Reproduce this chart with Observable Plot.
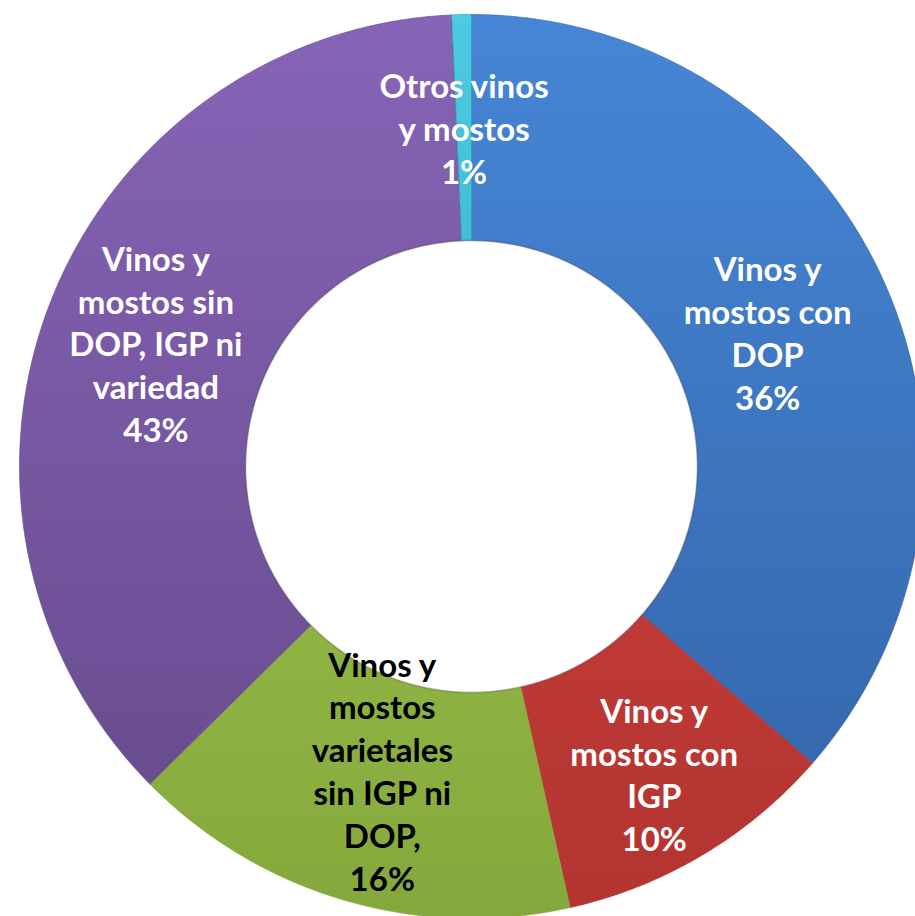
<!DOCTYPE html>
<html>
<head>
<meta charset="utf-8">
<script src="https://cdn.jsdelivr.net/npm/d3@7"></script>
<script src="https://cdn.jsdelivr.net/npm/@observablehq/plot@0.6"></script>
<style>
  html, body { margin: 0; padding: 0; background: #ffffff; }
  #chart svg { display: block; }
</style>
</head>
<body>
<div id="chart"></div>
<script>
// ---- data (clockwise from 12 o'clock) ----
const categories = [
  "Vinos y mostos con DOP",
  "Vinos y mostos con IGP",
  "Vinos y mostos varietales sin IGP ni DOP,",
  "Vinos y mostos sin DOP, IGP ni variedad",
  "Otros vinos y mostos"
];
// slice sizes as drawn in the picture (share of the ring, %)
const sliceShares = [36.4, 10.1, 16.1, 36.7, 0.7];
// percentages printed on the labels
const printedPct = ["36%", "10%", "16%", "43%", "1%"];
// label text as broken into lines
const labelText = [
  "Vinos y\nmostos con\nDOP",
  "Vinos y\nmostos con\nIGP",
  "Vinos y\nmostos\nvarietales\nsin IGP ni\nDOP,",
  "Vinos y\nmostos sin\nDOP, IGP ni\nvariedad",
  "Otros vinos\ny mostos"
];

// ---- styles / layout ----
const topColors    = ["#4686d6", "#d8453f", "#a3cd52", "#8664b7", "#4ccbe2"];
const bottomColors = ["#3363a6", "#b23431", "#85a83c", "#654989", "#2399ae"];
const textColors   = ["#ffffff", "#ffffff", "#000000", "#ffffff", "#ffffff"];
const labelRadius  = [0.72, 0.79, 0.70, 0.75, 0.75];   // label distance from centre (ring radius = 1)

const W = 915, H = 916;
const cx = 471, cy = 466, Rpx = 452;   // layout of the ring in the frame
const innerR = 0.5, outerR = 1;

// ---- build slice polygons from the data ----
const pie = d3.pie().sort(null).value(d => d.share).startAngle(0).endAngle(2 * Math.PI);
const rows = categories.map((c, i) => ({
  name: c, share: sliceShares[i], pct: printedPct[i],
  label: labelText[i] + "\n" + printedPct[i], grad: `url(#grad${i})`, textColor: textColors[i]
}));
const arcs = pie(rows);

const polys = [];
arcs.forEach((a, i) => {
  const n = Math.max(4, Math.ceil((a.endAngle - a.startAngle) / (Math.PI / 360)));
  const pts = [];
  for (let k = 0; k <= n; k++) {
    const t = a.startAngle + (a.endAngle - a.startAngle) * k / n;
    pts.push({x: outerR * Math.sin(t), y: outerR * Math.cos(t)});
  }
  for (let k = n; k >= 0; k--) {
    const t = a.startAngle + (a.endAngle - a.startAngle) * k / n;
    pts.push({x: innerR * Math.sin(t), y: innerR * Math.cos(t)});
  }
  pts.push(pts[0]);
  pts.forEach(p => polys.push({...p, name: a.data.name, grad: a.data.grad, edge: bottomColors[i]}));
});

const labels = arcs.map((a, i) => {
  const m = (a.startAngle + a.endAngle) / 2;
  const r = labelRadius[i];
  return {x: r * Math.sin(m), y: r * Math.cos(m), label: a.data.label, color: a.data.textColor};
});

// inner hole rim (shadow)
const rim = d3.range(0, 361, 1).map(d => ({x: innerR * Math.sin(d * Math.PI / 180), y: innerR * Math.cos(d * Math.PI / 180)}));

const chart = Plot.plot({
  width: W, height: H,
  margin: 0,
  x: {domain: [-cx / Rpx, (W - cx) / Rpx], axis: null},
  y: {domain: [-(H - cy) / Rpx, cy / Rpx], axis: null},
  color: {type: "identity"},
  style: {background: "transparent"},
  marks: [
    Plot.line(polys, {x: "x", y: "y", z: "name", fill: "grad", stroke: "edge", strokeWidth: 1, strokeOpacity: 0.6, curve: "linear"}),
    Plot.line(rim, {x: "x", y: "y", stroke: "#555", strokeWidth: 2, strokeOpacity: 0.25}),
    Plot.text(labels, {
      x: "x", y: "y", text: "label", fill: "color",
      fontSize: 33, fontWeight: "bold", fontFamily: "Lato, 'Open Sans', sans-serif",
      lineHeight: 1.3, lineAnchor: "middle", textAnchor: "middle"
    })
  ]
});

// vertical shading gradients for the slices
const ns = "http://www.w3.org/2000/svg";
const defs = document.createElementNS(ns, "defs");
topColors.forEach((c, i) => {
  const g = document.createElementNS(ns, "linearGradient");
  g.setAttribute("id", "grad" + i);
  g.setAttribute("gradientUnits", "userSpaceOnUse");
  g.setAttribute("x1", 0); g.setAttribute("x2", 0);
  g.setAttribute("y1", cy - Rpx); g.setAttribute("y2", cy + Rpx);
  const s1 = document.createElementNS(ns, "stop");
  s1.setAttribute("offset", "0"); s1.setAttribute("stop-color", c);
  const s2 = document.createElementNS(ns, "stop");
  s2.setAttribute("offset", "1"); s2.setAttribute("stop-color", bottomColors[i]);
  g.appendChild(s1); g.appendChild(s2);
  defs.appendChild(g);
});
chart.insertBefore(defs, chart.firstChild);
document.getElementById("chart").appendChild(chart);
</script>
</body>
</html>
